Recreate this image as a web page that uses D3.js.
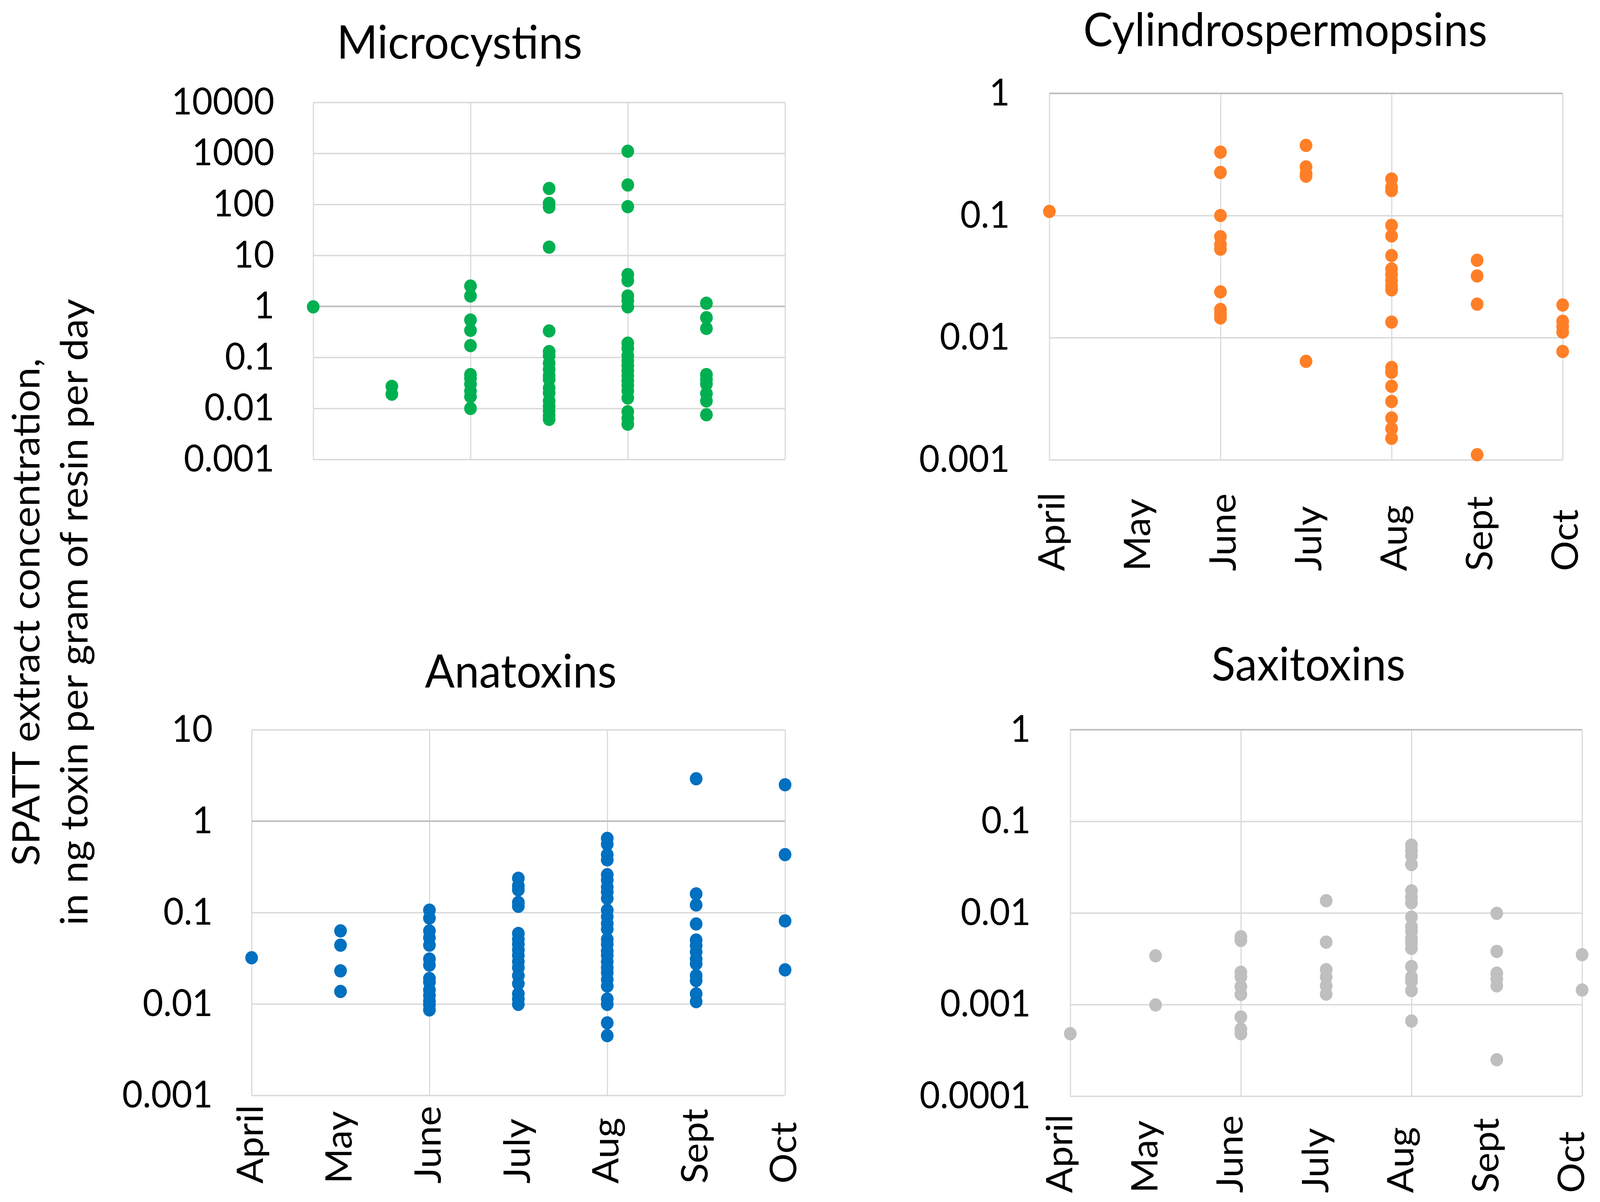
<!DOCTYPE html>
<html><head><meta charset="utf-8">
<script src="https://cdn.jsdelivr.net/npm/d3@7"></script>
<style>html,body{margin:0;padding:0;background:#fff;overflow:hidden;width:100%;height:100%;} svg{display:block;width:100vw;height:100vh;}</style>
</head><body><svg id="chart"></svg>
<script>
// ---------- DATA ----------
const months = ["April","May","June","July","Aug","Sept","Oct"];
const gridMonths = ["April","June","Aug","Oct"];
const panelTitles = ["Microcystins","Cylindrospermopsins","Anatoxins","Saxitoxins"];
const yTitleLines = ["SPATT extract concentration,","in ng toxin per gram of resin per day"];

// values per month (April..Oct), ng toxin / g resin / day
const microcystins = [
  [0.98],
  [0.027, 0.019],
  [2.5, 1.6, 0.54, 0.34, 0.17, 0.046, 0.039, 0.030, 0.022, 0.017, 0.010],
  [205, 105, 88, 14.5, 0.33, 0.13, 0.108, 0.077, 0.058, 0.044, 0.037, 0.025, 0.020, 0.014, 0.011, 0.009, 0.0072, 0.0061],
  [1100, 240, 90, 4.2, 3.2, 1.6, 1.3, 0.98, 0.19, 0.15, 0.108, 0.086, 0.069, 0.055, 0.044, 0.035, 0.028, 0.022, 0.016, 0.0086, 0.0064, 0.0049],
  [1.15, 0.6, 0.37, 0.046, 0.037, 0.030, 0.0195, 0.014, 0.0075],
  []
];
const cylindrospermopsins = [
  [0.108],
  [],
  [0.33, 0.225, 0.1, 0.067, 0.058, 0.053, 0.0237, 0.017, 0.0155, 0.0145],
  [0.375, 0.25, 0.22, 0.21, 0.0064],
  [0.199, 0.17, 0.16, 0.083, 0.068, 0.047, 0.0365, 0.033, 0.0293, 0.0265, 0.0246, 0.0134, 0.0057, 0.0052, 0.0040, 0.0030, 0.0022, 0.0018, 0.0015],
  [0.043, 0.032, 0.0188, 0.0011],
  [0.0185, 0.0136, 0.0123, 0.0111, 0.0077]
];
const anatoxins = [
  [0.032],
  [0.063, 0.044, 0.023, 0.0137],
  [0.106, 0.087, 0.063, 0.053, 0.044, 0.031, 0.0266, 0.019, 0.0173, 0.0142, 0.0124, 0.0108, 0.0098, 0.0086],
  [0.237, 0.196, 0.177, 0.129, 0.117, 0.059, 0.051, 0.045, 0.039, 0.034, 0.029, 0.025, 0.0204, 0.0167, 0.0129, 0.0113, 0.0099],
  [0.647, 0.56, 0.43, 0.377, 0.259, 0.227, 0.19, 0.168, 0.143, 0.106, 0.09, 0.076, 0.066, 0.051, 0.045, 0.038, 0.034, 0.029, 0.025, 0.022, 0.0185, 0.0157, 0.0113, 0.0099, 0.0062, 0.0045],
  [2.91, 0.16, 0.121, 0.075, 0.050, 0.0435, 0.037, 0.031, 0.0275, 0.0204, 0.018, 0.0129, 0.0106],
  [2.5, 0.43, 0.081, 0.0236]
];
const saxitoxins = [
  [0.00048],
  [0.0034, 0.00099],
  [0.0055, 0.0050, 0.00225, 0.0020, 0.00157, 0.00129, 0.00073, 0.00054, 0.00048],
  [0.0136, 0.0048, 0.0024, 0.0020, 0.0016, 0.0013],
  [0.055, 0.048, 0.042, 0.0337, 0.0174, 0.0148, 0.0129, 0.009, 0.0071, 0.0063, 0.0053, 0.0047, 0.0041, 0.0026, 0.0020, 0.00179, 0.00142, 0.00066],
  [0.0099, 0.0038, 0.0022, 0.0019, 0.0016, 0.00025],
  [0.0035, 0.00144]
];

const microTicks = [10000, 1000, 100, 10, 1, 0.1, 0.01, 0.001];
const microTickLabels = ["10000","1000","100","10","1","0.1","0.01","0.001"];
const cylTicks = [1, 0.1, 0.01, 0.001];
const cylTickLabels = ["1","0.1","0.01","0.001"];
const anaTicks = [10, 1, 0.1, 0.01, 0.001];
const anaTickLabels = ["10","1","0.1","0.01","0.001"];
const saxTicks = [1, 0.1, 0.01, 0.001, 0.0001];
const saxTickLabels = ["1","0.1","0.01","0.001","0.0001"];

// ---------- LAYOUT / STYLE ----------
const W = 4286, H = 3077;
const FONT = "Lato, Carlito, 'Open Sans', sans-serif";
const TICK_FS = 95, MONTH_FS = 97, TITLE_FS = 118, YTITLE_FS = 102;
const panels = [
  {title: panelTitles[0], data: microcystins, ticks: microTicks, labels: microTickLabels, color: "#00B050",
   l: 839, r: 2103, t: 262, b: 1176, tx: 1231, ty: 150, pad: 104, monthY: null, monthDx: 0},
  {title: panelTitles[1], data: cylindrospermopsins, ticks: cylTicks, labels: cylTickLabels, color: "#FF7F27",
   l: 2811, r: 4186, t: 239, b: 1177, tx: 3443, ty: 118, pad: 106, monthY: 1462, monthDx: 5},
  {title: panelTitles[2], data: anatoxins, ticks: anaTicks, labels: anaTickLabels, color: "#0070C0",
   l: 674, r: 2103, t: 1868, b: 2804, tx: 1395, ty: 1760, pad: 104, monthY: 3030, monthDx: -5},
  {title: panelTitles[3], data: saxitoxins, ticks: saxTicks, labels: saxTickLabels, color: "#BFBFBF",
   l: 2867, r: 4238, t: 1868, b: 2806, tx: 3505, ty: 1742, pad: 106, monthY: 3054, monthDx: -30}
];

const svg = d3.select("#chart")
  .attr("viewBox", `0 0 ${W} ${H}`)
  .attr("preserveAspectRatio", "none")
  .style("background", "#fff");

panels.forEach(p => {
  const g = svg.append("g");
  const x = d3.scalePoint().domain(months).range([p.l, p.r]).padding(0);
  const y = d3.scaleLog().domain(d3.extent(p.ticks)).range([p.b, p.t]);

  // vertical gridlines
  g.append("g").attr("transform", `translate(0,${p.b})`)
    .call(d3.axisBottom(x).tickValues(gridMonths).tickSize(-(p.b - p.t)).tickFormat(""))
    .call(a => a.select(".domain").remove())
    .call(a => a.selectAll("line").attr("stroke", "#d9d9d9").attr("stroke-width", 3));

  // horizontal gridlines
  g.append("g").attr("transform", `translate(${p.l},0)`)
    .call(d3.axisLeft(y).tickValues(p.ticks).tickSize(-(p.r - p.l)).tickFormat(""))
    .call(a => a.select(".domain").remove())
    .call(a => a.selectAll("line").attr("stroke", "#d9d9d9").attr("stroke-width", 3.5));

  // horizontal axis line (crosses at 1)
  g.append("line").attr("x1", p.l).attr("x2", p.r).attr("y1", y(1)).attr("y2", y(1))
    .attr("stroke", "#bfbfbf").attr("stroke-width", 4);

  // y tick labels
  g.append("g").attr("transform", `translate(${p.l},0)`)
    .call(d3.axisLeft(y).tickValues(p.ticks).tickSize(0).tickPadding(p.pad)
      .tickFormat((d, i) => p.labels[i]))
    .call(a => a.select(".domain").remove())
    .call(a => a.selectAll("text").attr("font-family", FONT).attr("font-size", TICK_FS).attr("fill", "#000"));

  // month labels
  if (p.monthY !== null) {
    g.append("g").selectAll("text").data(months).join("text")
      .attr("transform", d => `translate(${x(d) + p.monthDx},${p.monthY}) rotate(-90)`)
      .attr("dy", "0.36em")
      .attr("text-anchor", "start")
      .attr("font-family", FONT).attr("font-size", MONTH_FS).attr("fill", "#000")
      .text(d => d);
  }

  // points
  const pts = [];
  p.data.forEach((vals, i) => vals.forEach(v => pts.push({m: months[i], v})));
  g.append("g").selectAll("circle").data(pts).join("circle")
    .attr("cx", d => x(d.m)).attr("cy", d => y(d.v)).attr("r", 17)
    .attr("fill", p.color);

  // title
  g.append("text").attr("x", p.tx).attr("y", p.ty).attr("text-anchor", "middle")
    .attr("font-family", FONT).attr("font-size", TITLE_FS).attr("fill", "#000").text(p.title);
});

// shared y-axis title
const yt = svg.append("g");
yt.selectAll("text").data(yTitleLines).join("text")
  .attr("transform", (d, i) => `translate(${i === 0 ? 106 : 234},1567) rotate(-90)`)
  .attr("text-anchor", "middle")
  .attr("font-family", FONT).attr("font-size", YTITLE_FS).attr("fill", "#000")
  .text(d => d);
</script>
</body></html>
